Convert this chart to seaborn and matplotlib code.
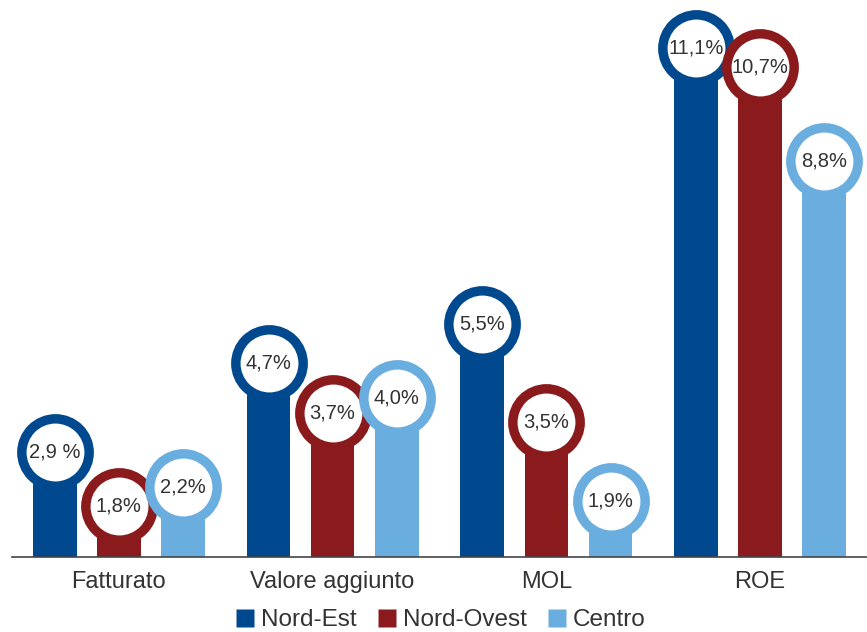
import matplotlib
matplotlib.use("Agg")
import matplotlib.pyplot as plt
import seaborn as sns
import pandas as pd
from matplotlib.lines import Line2D

categories = ["Fatturato", "Valore aggiunto", "MOL", "ROE"]
regions = ["Nord-Est", "Nord-Ovest", "Centro"]
nord_est = [2.9, 4.7, 5.5, 11.1]
nord_ovest = [1.8, 3.7, 3.5, 10.7]
centro = [2.2, 4.0, 1.9, 8.8]
labels = {
    "Nord-Est": ["2,9 %", "4,7%", "5,5%", "11,1%"],
    "Nord-Ovest": ["1,8%", "3,7%", "3,5%", "10,7%"],
    "Centro": ["2,2%", "4,0%", "1,9%", "8,8%"],
}
colors = ["#00498F", "#8A1A1C", "#6AADDF"]

rows = []
for reg, vals in zip(regions, [nord_est, nord_ovest, centro]):
    for c, v in zip(categories, vals):
        rows.append({"cat": c, "reg": reg, "val": v})
df = pd.DataFrame(rows)

sns.set_theme(style="white")
plt.rcParams["font.family"] = ["Liberation Sans", "DejaVu Sans"]

W, H = 867, 632
fig = plt.figure(figsize=(W / 100, H / 100), dpi=100)
fig.patch.set_facecolor("white")
left = 12 / W
bottom = 75 / H
ax = fig.add_axes([left, bottom, 1 - left, 557 / H])

sns.barplot(data=df, x="cat", y="val", hue="reg", order=categories,
            hue_order=regions, palette=colors, width=0.9, gap=0.32,
            saturation=1, ax=ax, legend=False)

px_per_unit = 49.3
ax.set_ylim(0, 557 / px_per_unit)
ax.set_xlim(-0.5, 3.5 - 12 / 217)

r_data = 38 / px_per_unit
for cont, reg, col in zip(ax.containers, regions, colors):
    for bar, lab in zip(cont, labels[reg]):
        bar.set_edgecolor("none")
        x = bar.get_x() + bar.get_width() / 2
        h = bar.get_height()
        cy = h - r_data
        # bar ends at the circle centre so its top is hidden by the ring
        bar.set_height(cy)
        ax.scatter([x], [cy], s=2350, marker="o", facecolor="white",
                   edgecolor=col, linewidth=6.8, zorder=5)
        ax.text(x, cy, lab, ha="center", va="center", fontsize=14.5,
                color="#333333", zorder=6)

for s in ["top", "left", "right"]:
    ax.spines[s].set_visible(False)
ax.spines["bottom"].set_color("#444444")
ax.spines["bottom"].set_linewidth(1.2)
ax.set_yticks([])
ax.set_xlabel("")
ax.set_ylabel("")
ax.set_xticks(range(len(categories)))
ax.set_xticklabels(categories, fontsize=17, color="#333333")
ax.tick_params(axis="x", which="major", length=0, pad=10)
ax.set_xticks([-0.5, 0.5, 1.5, 2.5, 3.5], minor=True)
ax.tick_params(axis="x", which="minor", length=8, direction="inout",
               color="#444444", width=1.2)

handles = [Line2D([0], [0], marker="s", linestyle="none", markersize=12.5,
                  markerfacecolor=c, markeredgecolor="none") for c in colors]
fig.legend(handles, regions, loc="center", bbox_to_anchor=(441 / W, 1 - 620 / H),
           ncol=3, frameon=False, fontsize=17.5, handlelength=0.7,
           handletextpad=0.3, columnspacing=0.9, labelcolor="#333333")

fig.savefig("out.png", dpi=100, facecolor="white")
